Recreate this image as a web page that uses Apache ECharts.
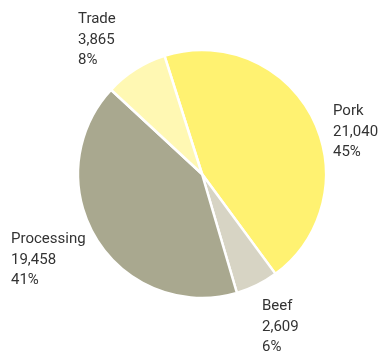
<!DOCTYPE html>
<html><head><meta charset="utf-8">
<script src="https://cdn.jsdelivr.net/npm/echarts@6/dist/echarts.min.js"></script>
<style>html,body{margin:0;padding:0;background:#fff}#c{width:380px;height:352px}</style>
</head><body><div id="c"></div>
<script>
const categories = ["Pork", "Beef", "Processing", "Trade"];
const values = [21040, 2609, 19458, 3865];
const colors = ["#FFF271", "#D7D4C4", "#A9A88F", "#FFF8B3"];
const labelPos = [[333, 101], [262, 296], [11, 229], [78, 9]];

const chart = echarts.init(document.getElementById('c'), null, {renderer: 'canvas'});
chart.setOption({
  animation: false,
  series: [{
    type: 'pie',
    center: [202, 174],
    radius: 124,
    startAngle: 107.6,
    clockwise: true,
    itemStyle: {borderColor: '#fff', borderWidth: 2.5},
    labelLine: {show: false},
    label: {
      show: true,
      position: 'outside',
      fontFamily: 'Roboto',
      fontSize: 15,
      lineHeight: 20.5,
      color: '#333',
      align: 'left',
      verticalAlign: 'top',
      overflow: 'none',
      width: 120,
      formatter: p => p.name + '\n' + p.value.toLocaleString('en-US') + '\n' + Math.round(p.percent) + '%'
    },
    labelLayout: p => ({x: labelPos[p.dataIndex][0], y: labelPos[p.dataIndex][1], align: 'left', verticalAlign: 'top'}),
    data: categories.map((c, i) => ({name: c, value: values[i], itemStyle: {color: colors[i]}}))
  }]
});
</script></body></html>
